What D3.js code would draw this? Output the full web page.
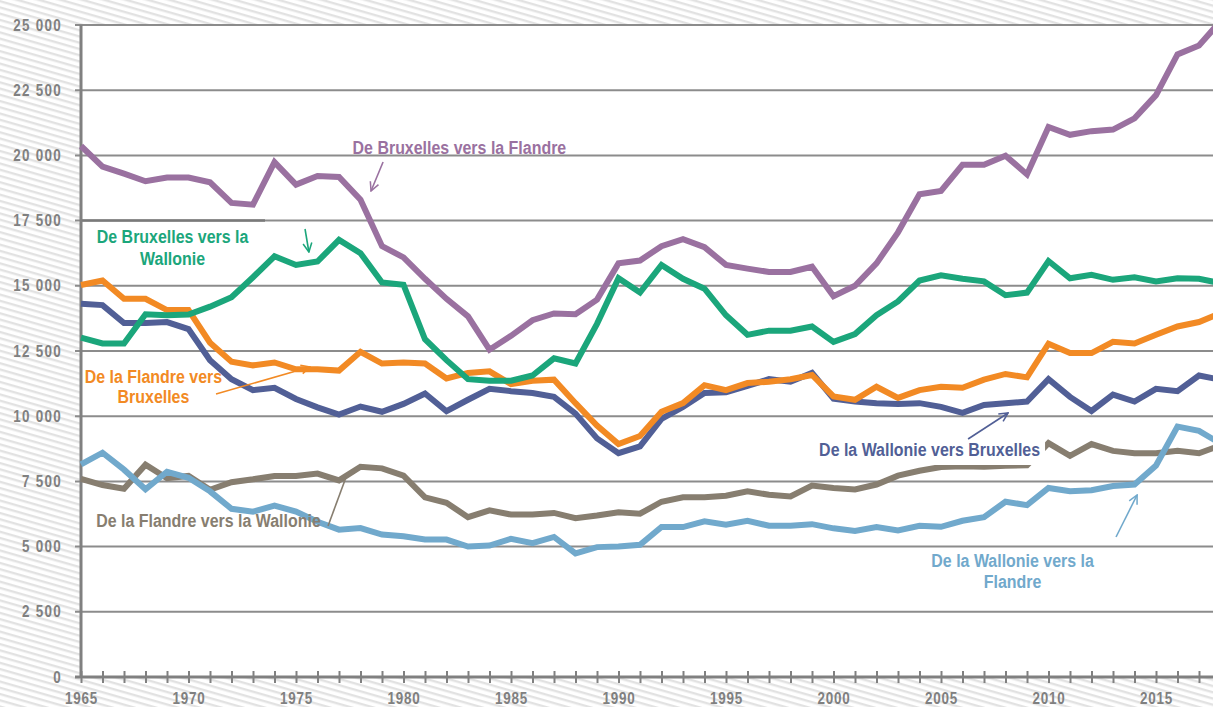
<!DOCTYPE html>
<html>
<head>
<meta charset="utf-8">
<script src="https://cdn.jsdelivr.net/npm/d3@7"></script>
<style>
body { margin: 0; background: #fff; }
svg text { font-family: "Liberation Sans", Arial, sans-serif; font-weight: bold; }
</style>
</head>
<body>
<svg id="chart"></svg>
<script>
const years = [1965, 1966, 1967, 1968, 1969, 1970, 1971, 1972, 1973, 1974, 1975, 1976, 1977, 1978, 1979,
	1980, 1981, 1982, 1983, 1984, 1985, 1986, 1987, 1988, 1989, 1990, 1991, 1992, 1993, 1994, 1995, 1996,
	1997, 1998, 1999, 2000, 2001, 2002, 2003, 2004, 2005, 2006, 2007, 2008, 2009, 2010, 2011, 2012, 2013,
	2014, 2015, 2016, 2017, 2018]

// De Bruxelles vers la Flandre
const bxlFla = [20360, 19570, 19300, 19010, 19150, 19150, 18970, 18180, 18110, 19740, 18880, 19210, 19170, 18300, 16520,
	16090, 15270, 14500, 13830, 12550, 13080, 13680, 13940, 13910, 14470, 15860, 15970, 16520, 16790, 16480, 15800, 15660,
	15530, 15530, 15730, 14600, 15000, 15860, 17050, 18510, 18640, 19640, 19640, 19990, 19270, 21090, 20790, 20930, 20990,
	21420, 22310, 23870, 24210, 25150]
// De Bruxelles vers la Wallonie
const bxlWal = [13010, 12790, 12790, 13910, 13870, 13900, 14200, 14560, 15330, 16130, 15800, 15930, 16760, 16250, 15130,
	15040, 12950, 12150, 11420, 11360, 11360, 11560, 12220, 12020, 13540, 15290, 14740, 15800, 15270, 14890, 13870, 13120,
	13280, 13280, 13440, 12850, 13150, 13870, 14400, 15200, 15400, 15270, 15170, 14640, 14740, 15950, 15290, 15420, 15230,
	15330, 15170, 15290, 15270, 15100]
// De la Flandre vers Bruxelles
const flaBxl = [15030, 15200, 14500, 14500, 14070, 14070, 12820, 12090, 11950, 12060, 11800, 11800, 11750, 12470, 12020,
	12060, 12020, 11450, 11660, 11720, 11230, 11360, 11400, 10500, 9640, 8930, 9240, 10170, 10500, 11190, 11000, 11270,
	11320, 11420, 11580, 10760, 10630, 11130, 10700, 11000, 11130, 11090, 11400, 11620, 11490, 12780, 12420, 12420, 12850,
	12790, 13120, 13440, 13610, 13950]
// De la Wallonie vers Bruxelles
const walBxl = [14310, 14260, 13570, 13570, 13610, 13340, 12150, 11420, 11000, 11090, 10660, 10340, 10060, 10370, 10170,
	10470, 10870, 10190, 10630, 11050, 10960, 10890, 10740, 10100, 9150, 8580, 8840, 9900, 10360, 10890, 10920, 11160,
	11420, 11320, 11660, 10670, 10560, 10500, 10470, 10500, 10360, 10130, 10430, 10500, 10560, 11420, 10740, 10200, 10830,
	10560, 11050, 10960, 11560, 11400]
// De la Flandre vers la Wallonie
const flaWal = [7600, 7360, 7220, 8140, 7620, 7710, 7180, 7470, 7580, 7710, 7710, 7800, 7540, 8060, 8000,
	7720, 6890, 6680, 6130, 6390, 6230, 6230, 6290, 6090, 6190, 6320, 6260, 6720, 6890, 6890, 6950, 7120,
	6990, 6920, 7340, 7250, 7190, 7380, 7720, 7910, 8050, 8080, 8060, 8100, 8120, 8970, 8480, 8930, 8670,
	8580, 8580, 8670, 8580, 8880]
// De la Wallonie vers la Flandre
const walFla = [8150, 8600, 7950, 7200, 7870, 7640, 7120, 6450, 6340, 6570, 6340, 5950, 5650, 5710, 5460,
	5400, 5270, 5270, 5000, 5040, 5300, 5130, 5370, 4740, 4980, 5000, 5070, 5750, 5750, 5970, 5840, 5990,
	5800, 5800, 5860, 5700, 5600, 5750, 5620, 5800, 5760, 5990, 6130, 6720, 6590, 7250, 7120, 7160, 7320,
	7380, 8110, 9600, 9440, 8950]

const yTicks = [0, 2500, 5000, 7500, 10000, 12500, 15000, 17500, 20000, 22500, 25000]
const xLabels = [1965, 1970, 1975, 1980, 1985, 1990, 1995, 2000, 2005, 2010, 2015]

const width = 1213
const height = 707
const narrow = 0.84

const fr = d3.formatLocale({ decimal: ",", thousands: " ", grouping: [3], currency: ["", " €"] })
const fmt = fr.format(",")

let x = d3.scaleLinear().domain([1965, 2015]).range([81, 1156])
let y = d3.scaleLinear().domain([0, 25000]).range([677, 25])

const svg = d3.select('#chart')
	.attr('width', width)
	.attr('height', height)

const defs = svg.append('defs')

defs.append('pattern')
	.attr('id', 'stripes')
	.attr('patternUnits', 'userSpaceOnUse')
	.attr('width', 10)
	.attr('height', 6)
	.attr('patternTransform', 'rotate(16)')
	.append('rect')
		.attr('width', 10)
		.attr('height', 2.4)
		.attr('fill', '#e2e2e2')

// background
svg.append('rect')
	.attr('width', width)
	.attr('height', height)
	.attr('fill', '#fff')
svg.append('rect')
	.attr('width', width)
	.attr('height', height)
	.attr('fill', 'url(#stripes)')
svg.append('rect')
	.attr('x', x(1965))
	.attr('y', y(25000))
	.attr('width', width - x(1965))
	.attr('height', y(0) - y(25000))
	.attr('fill', '#fff')

// gridlines
svg.append('g').selectAll('line')
	.data(yTicks)
	.enter()
		.append('line')
		.attr('x1', x(1965) - 6)
		.attr('x2', width)
		.attr('y1', d => y(d))
		.attr('y2', d => y(d))
		.attr('stroke', '#8c8c8c')
		.attr('stroke-width', 2)

svg.append('line')
	.attr('x1', x(1965))
	.attr('x2', x(1973.56))
	.attr('y1', y(17500))
	.attr('y2', y(17500))
	.attr('stroke', '#7a7a7a')
	.attr('stroke-width', 2.5)

// y labels
let yAxis = d3.axisLeft(y).tickValues(yTicks).tickSize(0).tickPadding(19 / narrow).tickFormat(fmt)
svg.append('g')
	.attr('transform', 'translate(' + x(1965) + ',0)')
	.call(yAxis)
	.call(g => g.select('.domain').remove())
	.selectAll('text')
		.attr('fill', '#808080')
		.attr('transform', 'scale(' + narrow + ',1)')
		.style('font-size', '16px')
		.style('letter-spacing', '1.5px')

// x axis
let xAxis = d3.axisBottom(x).tickValues(years).tickSize(6).tickFormat('')
svg.append('g')
	.attr('transform', 'translate(0,' + y(0) + ')')
	.call(xAxis)
	.call(g => g.select('.domain').remove())
	.call(g => g.selectAll('.tick line').attr('y1', -6).attr('stroke', '#808080').attr('stroke-width', 2))

svg.append('line')
	.attr('x1', x(1965) - 6)
	.attr('x2', width)
	.attr('y1', y(0))
	.attr('y2', y(0))
	.attr('stroke', '#808080')
	.attr('stroke-width', 3)

let xLab = d3.axisBottom(x).tickValues(xLabels).tickSize(0).tickPadding(16).tickFormat(d3.format('d'))
svg.append('g')
	.attr('transform', 'translate(0,' + y(0) + ')')
	.call(xLab)
	.call(g => g.select('.domain').remove())
	.selectAll('text')
		.attr('fill', '#808080')
		.attr('transform', 'scale(' + narrow + ',1)')
		.style('font-size', '16px')
		.style('letter-spacing', '1px')

// left axis line
svg.append('line')
	.attr('x1', x(1965))
	.attr('x2', x(1965))
	.attr('y1', y(25000))
	.attr('y2', y(0) + 1)
	.attr('stroke', '#808080')
	.attr('stroke-width', 3)

// series
let series = [
	{ name: 'flaWal', values: flaWal, color: '#877e70' },
	{ name: 'walFla', values: walFla, color: '#71a9cc' },
	{ name: 'walBxl', values: walBxl, color: '#515f96' },
	{ name: 'flaBxl', values: flaBxl, color: '#f28a24' },
	{ name: 'bxlWal', values: bxlWal, color: '#1ba67b' },
	{ name: 'bxlFla', values: bxlFla, color: '#9a71a0' }
]

let line = d3.line()
	.x((d, i) => x(years[i]))
	.y(d => y(d))

svg.append('g').selectAll('path')
	.data(series)
	.enter()
		.append('path')
		.attr('class', d => d.name)
		.attr('fill', 'none')
		.attr('stroke', d => d.color)
		.attr('stroke-width', 6)
		.attr('d', d => line(d.values))

// labels
function arrowHead(color, id){
	defs.append('marker')
		.attr('id', id)
		.attr('markerUnits', 'userSpaceOnUse')
		.attr('viewBox', '0 0 10 10')
		.attr('refX', 9)
		.attr('refY', 5)
		.attr('markerWidth', 11)
		.attr('markerHeight', 11)
		.attr('orient', 'auto')
		.append('path')
			.attr('d', 'M1,1 L9,5 L1,9')
			.attr('fill', 'none')
			.attr('stroke', color)
			.attr('stroke-width', 1.4)
}

function label(lines, color, xv, yv, lineGap){
	let t = svg.append('text')
		.attr('transform', 'translate(' + x(xv) + ',' + y(yv) + ') scale(' + narrow + ',1)')
		.attr('fill', color)
		.style('font-size', '19px')
		.style('text-anchor', 'middle')
	lines.forEach((l, i) => {
		t.append('tspan')
			.attr('x', 0)
			.attr('dy', i == 0 ? 0 : lineGap)
			.text(l)
	})
}

function pointer(color, x1, y1, x2, y2, head){
	let p = svg.append('line')
		.attr('x1', x(x1))
		.attr('y1', y(y1))
		.attr('x2', x(x2))
		.attr('y2', y(y2))
		.attr('stroke', color)
		.attr('stroke-width', 1.6)
	if (head) {
		arrowHead(color, 'head-' + head)
		p.attr('marker-end', 'url(#head-' + head + ')')
	}
}

// white box behind the Wallonie -> Bruxelles label
svg.append('rect')
	.attr('x', x(1999.09))
	.attr('y', y(9241))
	.attr('width', x(2009.84) - x(1999.09))
	.attr('height', y(8129) - y(9241))
	.attr('fill', '#fff')

label(['De Bruxelles vers la Flandre'], '#9a71a0', 1982.6, 20050, 21)
pointer('#9a71a0', 1979.05, 19747, 1978.49, 18635, 'p')

label(['De Bruxelles vers la', 'Wallonie'], '#1ba67b', 1969.26, 16641, 22)
pointer('#1ba67b', 1975.42, 17178, 1975.6, 16296, 'g')

label(['De la Flandre vers', 'Bruxelles'], '#f28a24', 1968.37, 11273, 20)
pointer('#f28a24', 1971.28, 10851, 1975.65, 11887, 'o')

label(['De la Flandre vers la Wallonie'], '#877e70', 1970.93, 5752, 20)
pointer('#877e70', 1976.49, 5790, 1977.33, 7669, null)

label(['De la Wallonie vers Bruxelles'], '#515f96', 2004.47, 8474, 20)
pointer('#515f96', 2006.26, 9126, 2008.12, 10123, 'b')

label(['De la Wallonie vers la', 'Flandre'], '#71a9cc', 2008.33, 4218, 21)
pointer('#71a9cc', 2013.14, 5368, 2014.12, 6979, 'l')
</script>
</body>
</html>
